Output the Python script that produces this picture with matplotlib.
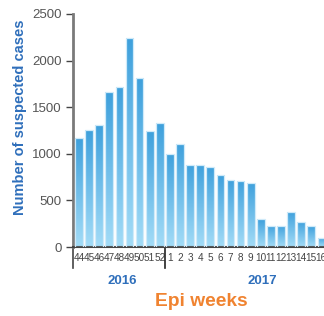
import matplotlib
matplotlib.use("Agg")
import matplotlib.pyplot as plt
import numpy as np
from matplotlib.colors import LinearSegmentedColormap

plt.rcParams['font.family'] = ['Liberation Sans', 'DejaVu Sans']

weeks = ["44", "45", "46", "47", "48", "49", "50", "51", "52",
         "1", "2", "3", "4", "5", "6", "7", "8", "9", "10", "11", "12", "13", "14", "15", "16"]
cases = [1170, 1260, 1310, 1660, 1720, 2240, 1810, 1240, 1330,
         1000, 1110, 880, 880, 860, 770, 720, 710, 690, 300, 230, 230, 380, 270, 220, 100]
years = ["2016", "2017"]
y_ticks = [0, 500, 1000, 1500, 2000, 2500]

fig = plt.figure(figsize=(3.24, 3.16), dpi=100)
ax = fig.add_axes([73/324, (316-247)/316, 1 - 73/324, (247-14)/316])

x = np.arange(len(weeks))
width = 0.76
bars = ax.bar(x, cases, width=width, color='none', edgecolor='#cfeaf9', linewidth=0.9, zorder=3)

cmap = LinearSegmentedColormap.from_list('g', ['#a3dcf7', '#3ea0dc'])
grad = np.linspace(0, 1, 256).reshape(-1, 1)
for xi, h, b in zip(x, cases, bars):
    im = ax.imshow(grad, cmap=cmap, origin='lower', aspect='auto',
                   extent=[xi - width/2, xi + width/2, 0, h], zorder=2)
    im.set_clip_path(b)

ax.set_xlim(-0.59, 24.26)
ax.set_ylim(0, 2500)

for s in ['top', 'right']:
    ax.spines[s].set_visible(False)
ax.spines['left'].set_color('#7a7a7a')
ax.spines['left'].set_linewidth(2)
ax.spines['bottom'].set_color('#444444')
ax.spines['bottom'].set_linewidth(1.5)

ax.set_yticks(y_ticks)
ax.set_yticklabels([str(v) for v in y_ticks], fontsize=9.5, color='#555555')
ax.tick_params(axis='y', direction='out', length=5, width=1, color='#444444', pad=3)

ax.set_xticks(x)
ax.set_xticklabels(weeks, fontsize=7.2, color='#444444')
ax.tick_params(axis='x', length=0, pad=4)

# year separators extending below the axis
ax.axvline(-0.59, ymin=-0.09, ymax=0, color='#444444', lw=1.2, clip_on=False)
ax.axvline(8.5, ymin=-0.09, ymax=0, color='#222222', lw=1.2, clip_on=False)

ax.text(4.3, -0.145, years[0], transform=ax.get_xaxis_transform(), ha='center', va='center',
        fontsize=9.5, fontweight='bold', color='#2f6fbb')
ax.text(18.2, -0.145, years[1], transform=ax.get_xaxis_transform(), ha='center', va='center',
        fontsize=9.5, fontweight='bold', color='#2f6fbb')

fig.text(201/324, 1 - 302/316, "Epi weeks", ha='center', va='center',
         fontsize=13.8, fontweight='bold', color='#f08330')
fig.text(20/324, 1 - 117/316, "Number of suspected cases", rotation=90, ha='center', va='center',
         fontsize=10.5, fontweight='bold', color='#2f6fbb')

fig.savefig('out.png', dpi=100)
